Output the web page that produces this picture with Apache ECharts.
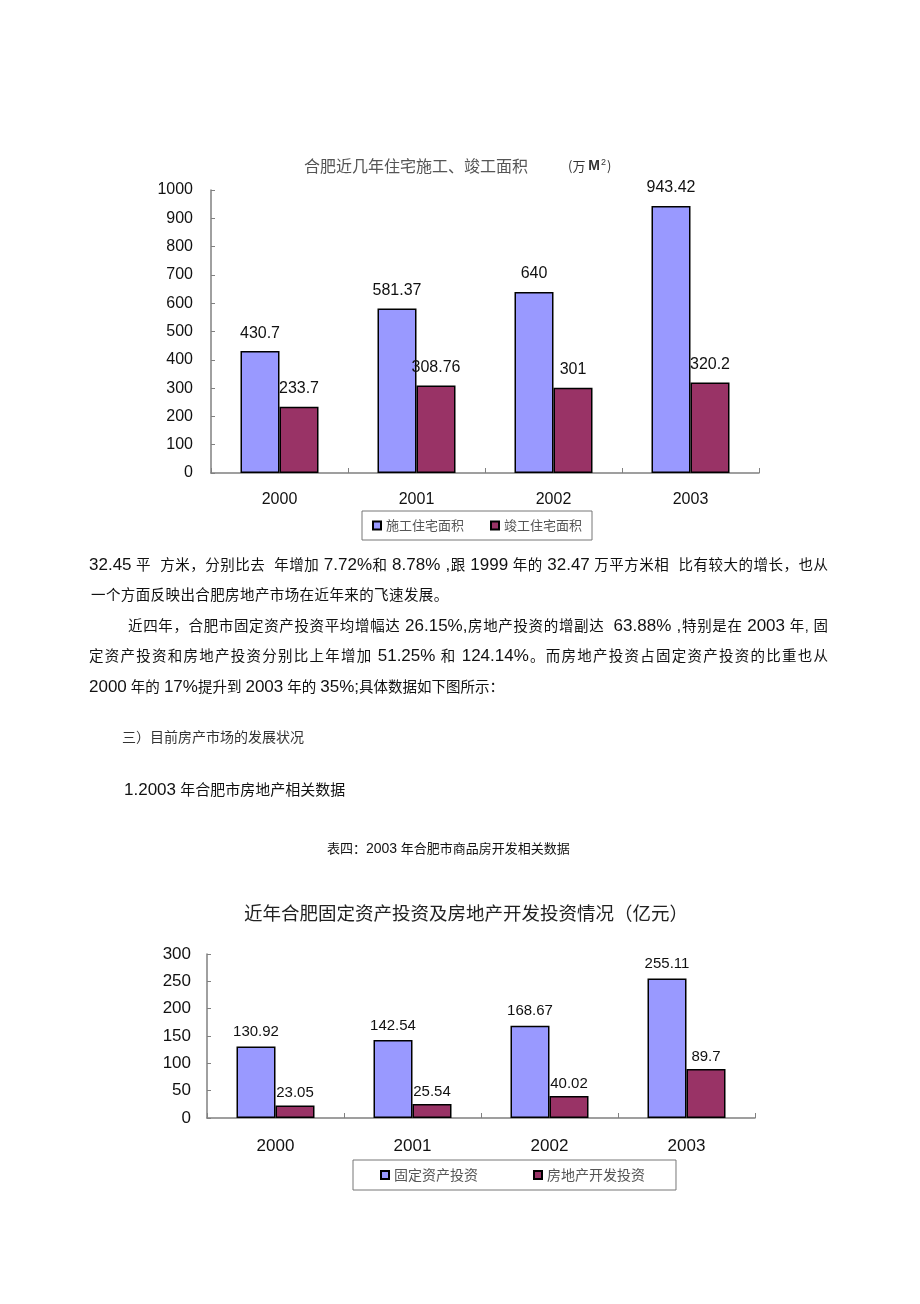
<!DOCTYPE html>
<html>
<head>
<meta charset="utf-8">
<script src="https://cdn.jsdelivr.net/npm/echarts@6/dist/echarts.min.js"></script>
<style>
  html,body{margin:0;padding:0;background:#fff;}
  #page{position:relative;width:920px;height:1304px;overflow:hidden;}
  #chart{position:absolute;left:0;top:0;width:920px;height:1304px;}
  .t{position:absolute;font-family:"Liberation Sans","Noto Sans CJK SC",sans-serif;font-size:14.5px;line-height:20px;color:#111;white-space:normal;}
  .j{text-align:justify;text-align-last:justify;}
  .n{font-size:17px;}
</style>
</head>
<body>
<div id="page">
  <div id="chart"></div>
  <div class="t j" style="left:89px;top:555px;width:739px;"><span class="n">32.45</span> 平&nbsp; 方米，分别比去&nbsp; 年增加 <span class="n">7.72%</span>和 <span class="n">8.78% ,</span>跟 <span class="n">1999</span> 年的 <span class="n">32.47</span> 万平方米相&nbsp; 比有较大的增长，也从</div>
  <div class="t" style="left:91px;top:585px;letter-spacing:0.4px;">一个方面反映出合肥房地产市场在近年来的飞速发展。</div>
  <div class="t j" style="left:128px;top:616px;width:700px;">近四年，合肥市固定资产投资平均增幅达 <span class="n">26.15%,</span>房地产投资的增副达&nbsp; <span class="n">63.88% ,</span>特别是在 <span class="n">2003</span> 年, 固</div>
  <div class="t j" style="left:89px;top:646px;width:739px;">定资产投资和房地产投资分别比上年增加 <span class="n">51.25%</span> 和 <span class="n">124.14%</span>。而房地产投资占固定资产投资的比重也从</div>
  <div class="t" style="left:89px;top:677px;"><span class="n">2000</span> 年的 <span class="n">17%</span>提升到 <span class="n">2003</span> 年的 <span class="n">35%;</span>具体数据如下图所示：</div>
  <div class="t" style="left:122px;top:727px;color:#333;font-size:14px;">三）目前房产市场的发展状况</div>
  <div class="t" style="left:124px;top:780px;font-size:15px;"><span style="font-size:17px;">1.2003</span> 年合肥市房地产相关数据</div>
  <div class="t" style="left:327px;top:838px;font-size:13px;">表四：<span style="font-size:14px;">2003</span> 年合肥市商品房开发相关数据</div>
</div>
<script>
// ---- data ----
const years = ['2000', '2001', '2002', '2003'];
const constructionArea = [430.7, 581.37, 640, 943.42];   // 施工住宅面积 (万 M²)
const completedArea = [233.7, 308.76, 301, 320.2];       // 竣工住宅面积 (万 M²)
const fixedInvest = [130.92, 142.54, 168.67, 255.11];    // 固定资产投资 (亿元)
const realEstateInvest = [23.05, 25.54, 40.02, 89.7];    // 房地产开发投资 (亿元)
const chart1Ticks = { min: 0, max: 1000, interval: 100 };
const chart2Ticks = { min: 0, max: 300, interval: 50 };
const names1 = ['施工住宅面积', '竣工住宅面积'];
const names2 = ['固定资产投资', '房地产开发投资'];

const BLUE = '#9999FF', RED = '#993366';
const NUM = '"Liberation Sans", Arial, sans-serif';
const CJK = '"Noto Sans CJK SC", sans-serif';

function xAx(gi) {
  return {
    type: 'category', gridIndex: gi, data: years,
    axisLine: { lineStyle: { color: '#808080', width: 1.5 } },
    axisTick: { show: true, inside: true, length: 5, interval: 0, lineStyle: { color: '#808080' } },
    axisLabel: { color: '#111', fontFamily: NUM, fontSize: gi === 0 ? 16 : 17, margin: gi === 0 ? 19 : 20 }
  };
}
function yAx(gi, t) {
  return {
    type: 'value', gridIndex: gi, min: t.min, max: t.max, interval: t.interval,
    axisLine: { show: true, lineStyle: { color: '#808080', width: 1.5 } },
    axisTick: { show: true, inside: true, length: 4, lineStyle: { color: '#808080' } },
    splitLine: { show: false },
    axisLabel: { color: '#111', fontFamily: NUM, fontSize: gi === 0 ? 16 : 17, margin: gi === 0 ? 18 : 16,
                 formatter: v => String(v) }
  };
}
function bar(name, data, gi, color, fs, dist) {
  return {
    name, type: 'bar', data, xAxisIndex: gi, yAxisIndex: gi,
    barWidth: 39, barGap: '0%',
    itemStyle: { color, borderColor: '#000', borderWidth: 1.5 },
    label: { show: true, position: 'top', distance: dist, color: '#111', fontFamily: NUM, fontSize: fs },
    animation: false
  };
}

const chart = echarts.init(document.getElementById('chart'), null, { renderer: 'canvas' });
chart.setOption({
  animation: false,
  title: [
    { text: '合肥近几年住宅施工、竣工面积', left: 299, top: 153,
      textStyle: { fontFamily: CJK, fontSize: 16, fontWeight: 'normal', color: '#555' } },
    { text: '{a|(万 }{b|M}{s|2}{a|)}', left: 563, top: 153,
      textStyle: { fontWeight: 'normal', rich: {
        a: { fontFamily: CJK, fontSize: 13, fontWeight: 'normal', color: '#333' },
        b: { fontFamily: NUM, fontSize: 14, fontWeight: 'bold', color: '#333' },
        s: { fontFamily: NUM, fontSize: 9, fontWeight: 'normal', color: '#333', verticalAlign: 'top', padding: [0, 1, 8, 1] }
      } } },
    { text: '近年合肥固定资产投资及房地产开发投资情况（亿元）', left: 239, top: 899,
      textStyle: { fontFamily: CJK, fontSize: 18.5, fontWeight: 'normal', color: '#222' } }
  ],
  grid: [
    { left: 211, top: 190, width: 548, height: 283 },
    { left: 207, top: 954, width: 548, height: 164 }
  ],
  xAxis: [xAx(0), xAx(1)],
  yAxis: [yAx(0, chart1Ticks), yAx(1, chart2Ticks)],
  legend: [
    { data: names1, left: 362, top: 511, width: 226, orient: 'horizontal',
      borderColor: '#777', borderWidth: 1, padding: [8, 10, 8, 10],
      itemWidth: 8, itemHeight: 8, itemGap: 26, icon: 'rect',
      textStyle: { fontFamily: CJK, fontSize: 13, color: '#555' } },
    { data: names2, left: 353, top: 1160, orient: 'horizontal',
      borderColor: '#777', borderWidth: 1, padding: [8, 31, 8, 27],
      itemWidth: 8, itemHeight: 8, itemGap: 55, icon: 'rect',
      textStyle: { fontFamily: CJK, fontSize: 14, color: '#555' } }
  ],
  series: [
    bar(names1[0], constructionArea, 0, BLUE, 16, 10),
    bar(names1[1], completedArea, 0, RED, 16, 10),
    bar(names2[0], fixedInvest, 1, BLUE, 15, 7),
    bar(names2[1], realEstateInvest, 1, RED, 15, 5)
  ]
});
</script>
</body>
</html>
